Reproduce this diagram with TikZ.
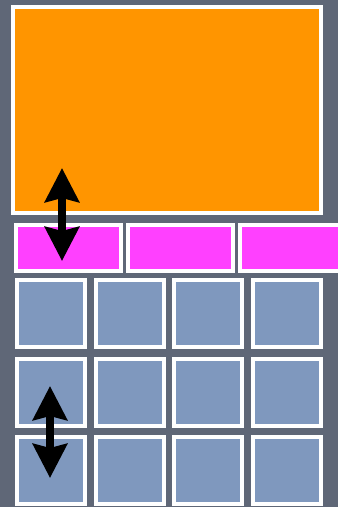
\documentclass[tikz,border=0pt]{standalone}
\usepackage{tikz}
\usetikzlibrary{arrows.meta}
\definecolor{bggray}{HTML}{5F6777}
\definecolor{paneorange}{HTML}{FF9500}
\definecolor{tabmagenta}{HTML}{FF40FF}
\definecolor{tileblue}{HTML}{7F98BE}

\begin{document}
\begin{tikzpicture}[
    x=1pt, y=-1pt,
    frame/.style={draw=white, line width=4pt, inner sep=0pt},
    bigpane/.style={frame, fill=paneorange, minimum width=308pt, minimum height=206pt},
    tabpane/.style={frame, fill=tabmagenta, minimum width=105pt, minimum height=46pt},
    tilepane/.style={frame, fill=tileblue, minimum width=68pt, minimum height=67pt},
    updown/.style={{Stealth[length=34pt, width=34pt, inset=4pt]}-{Stealth[length=34pt, width=34pt, inset=4pt]}, line width=8pt},
  ]
    \def\W{338}                            % 画面宽度（单位：pt）
    \def\H{507}                            % 画面高度
    % 背景
    \useasboundingbox (0, 0) rectangle (\W, \H);
    \fill[bggray] (0, 0) rectangle (\W, \H);
    \clip (0, 0) rectangle (\W, \H);

    % 上方大面板
    \node[bigpane] (big) at (167, 110) {};

    % 中间一排标签
    \node[tabpane] (tab-1) at (68.5, 248) {};
    \node[tabpane] (tab-2) at (180.5, 248) {};
    \node[tabpane] (tab-3) at (292.5, 248) {};

    % 下方方块网格
    \foreach \r [count=\i] in {313.5, 392, 470.5}
      \foreach \c [count=\j] in {51, 129.7, 208.3, 287}
        \node[tilepane] (tile-\i-\j) at (\c, \r) {};

    % 双向箭头
    \coordinate (big-tip) at (62, 168);
    \coordinate (tab-tip) at (62, 261);
    \draw[updown] (big-tip) -- (tab-tip);

    \coordinate (row-tip) at (50, 386);
    \coordinate (low-tip) at (50, 478);
    \draw[updown] (row-tip) -- (low-tip);
  \end{tikzpicture}
\end{document}
